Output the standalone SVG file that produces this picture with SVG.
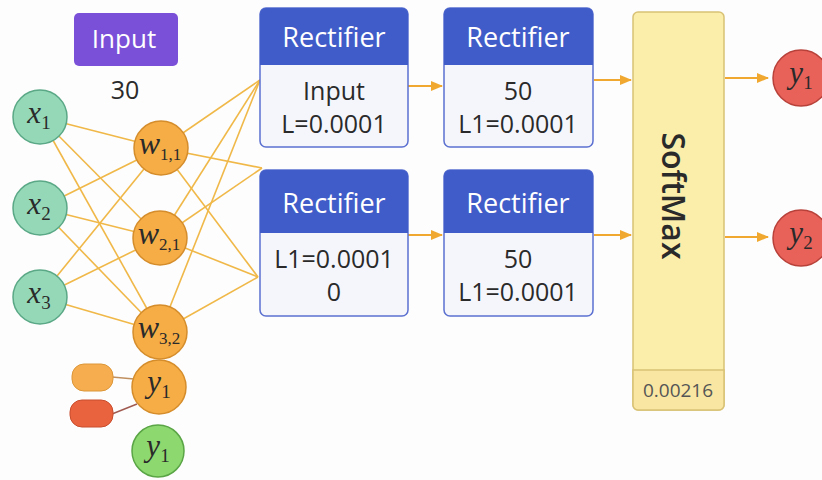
<svg xmlns="http://www.w3.org/2000/svg" width="822" height="480" viewBox="0 0 822 480">
  <defs>
    <marker id="arr" markerWidth="12" markerHeight="12" refX="11" refY="6" orient="auto" markerUnits="userSpaceOnUse">
      <path d="M0,1 L12,6 L0,11 Z" fill="#f0a830"/>
    </marker>
  </defs>
  <style>
    .sans { font-family: "Open Sans", "Liberation Sans", Arial, sans-serif; }
    .math { font-family: "Liberation Serif", "DejaVu Serif", serif; font-style: italic; fill: #2a2a2a; }
    .sub { font-style: normal; }
    .wire { stroke: #f0b848; stroke-width: 1.6; fill: none; }
    .flow { stroke: #f0a830; stroke-width: 2; fill: none; }
    .xnode { fill: #94d8b8; stroke: #5aa886; stroke-width: 1.5; }
    .wnode { fill: #f6ad45; stroke: #d58d2c; stroke-width: 1.5; }
    .rnode { fill: #e8625a; stroke: #b8413a; stroke-width: 1.5; }
    .gnode { fill: #8ed870; stroke: #5aa545; stroke-width: 1.5; }
    .head { fill: #3f5cc8; }
    .body { fill: #f5f6fc; stroke: #5b70d0; stroke-width: 1.5; }
    .htxt { fill: #ffffff; font-size: 27px; text-anchor: middle; }
    .btxt { fill: #2a2a2a; font-size: 25px; text-anchor: middle; }
  </style>

  <rect width="822" height="480" fill="#fdfdfd"/>

  <!-- connectors -->
  <g id="connectors">
    <!-- inputs to hidden weights -->
    <line class="wire" x1="40" y1="117" x2="161" y2="148"/>
    <line class="wire" x1="40" y1="117" x2="160" y2="238"/>
    <line class="wire" x1="40" y1="117" x2="160" y2="332"/>
    <line class="wire" x1="40" y1="208" x2="161" y2="148"/>
    <line class="wire" x1="40" y1="208" x2="160" y2="238"/>
    <line class="wire" x1="40" y1="208" x2="160" y2="332"/>
    <line class="wire" x1="40" y1="297" x2="161" y2="148"/>
    <line class="wire" x1="40" y1="297" x2="160" y2="238"/>
    <line class="wire" x1="40" y1="297" x2="160" y2="332"/>
    <!-- weights to rectifier layers -->
    <line class="wire" x1="161" y1="148" x2="260" y2="80"/>
    <line class="wire" x1="161" y1="148" x2="262" y2="168"/>
    <line class="wire" x1="161" y1="148" x2="258" y2="277"/>
    <line class="wire" x1="160" y1="238" x2="260" y2="80"/>
    <line class="wire" x1="160" y1="238" x2="262" y2="168"/>
    <line class="wire" x1="160" y1="238" x2="258" y2="277"/>
    <line class="wire" x1="160" y1="332" x2="260" y2="80"/>
    <line class="wire" x1="160" y1="332" x2="258" y2="277"/>
    <!-- side tags -->
    <line x1="112" y1="377" x2="134" y2="379" stroke="#c09060" stroke-width="1.5"/>
    <line x1="112" y1="414" x2="137" y2="404" stroke="#a05a50" stroke-width="1.5"/>
    <!-- layer flow -->
    <line class="flow" x1="408" y1="86" x2="442" y2="86" marker-end="url(#arr)"/>
    <line class="flow" x1="408" y1="235" x2="442" y2="235" marker-end="url(#arr)"/>
    <line class="flow" x1="594" y1="80" x2="631" y2="80" marker-end="url(#arr)"/>
    <line class="flow" x1="594" y1="235" x2="631" y2="235" marker-end="url(#arr)"/>
    <line class="flow" x1="725" y1="78" x2="768" y2="78" marker-end="url(#arr)"/>
    <line class="flow" x1="725" y1="237" x2="768" y2="237" marker-end="url(#arr)"/>
  </g>

  <!-- input label -->
  <g id="input-label">
    <rect x="74" y="13" width="104" height="53" rx="5" fill="#7a50d8"/>
    <text class="sans" x="124" y="48" font-size="26" fill="#ffffff" text-anchor="middle">Input</text>
    <text class="sans" x="125" y="99" font-size="25" fill="#2a2a2a" text-anchor="middle">30</text>
  </g>

  <!-- input nodes -->
  <g id="x1">
    <circle class="xnode" cx="40" cy="117" r="27"/>
    <text class="math" x="39" y="123" font-size="31" text-anchor="middle">x<tspan class="sub" font-size="19" dy="6">1</tspan></text>
  </g>
  <g id="x2">
    <circle class="xnode" cx="40" cy="208" r="27"/>
    <text class="math" x="39" y="214" font-size="31" text-anchor="middle">x<tspan class="sub" font-size="19" dy="6">2</tspan></text>
  </g>
  <g id="x3">
    <circle class="xnode" cx="40" cy="297" r="27"/>
    <text class="math" x="39" y="303" font-size="31" text-anchor="middle">x<tspan class="sub" font-size="19" dy="6">3</tspan></text>
  </g>

  <!-- weight nodes -->
  <g id="w11">
    <circle class="wnode" cx="161" cy="148" r="27"/>
    <text class="math" x="160" y="154" font-size="32" text-anchor="middle">w<tspan class="sub" font-size="17" dy="6">1,1</tspan></text>
  </g>
  <g id="w21">
    <circle class="wnode" cx="160" cy="238" r="27"/>
    <text class="math" x="159" y="244" font-size="32" text-anchor="middle">w<tspan class="sub" font-size="17" dy="6">2,1</tspan></text>
  </g>
  <g id="w32">
    <circle class="wnode" cx="160" cy="332" r="27"/>
    <text class="math" x="159" y="338" font-size="32" text-anchor="middle">w<tspan class="sub" font-size="17" dy="6">3,2</tspan></text>
  </g>

  <!-- output-side nodes under the weights -->
  <g id="y1-orange">
    <circle class="wnode" cx="159" cy="387" r="27"/>
    <text class="math" x="159" y="392" font-size="31" text-anchor="middle">y<tspan class="sub" font-size="19" dy="6">1</tspan></text>
  </g>
  <g id="tag-orange">
    <rect x="72" y="364" width="41" height="27" rx="12" fill="#f6ad50" stroke="#dc9638" stroke-width="1"/>
  </g>
  <g id="tag-red">
    <rect x="70" y="400" width="43" height="27" rx="12" fill="#e9643e" stroke="#c84c2c" stroke-width="1"/>
  </g>
  <g id="y1-green">
    <circle class="gnode" cx="158" cy="451" r="26"/>
    <text class="math" x="158" y="456" font-size="31" text-anchor="middle">y<tspan class="sub" font-size="19" dy="6">1</tspan></text>
  </g>

  <!-- rectifier layers -->
  <g id="rect1">
    <rect class="body" x="260" y="8" width="148" height="139" rx="6"/>
    <path class="head" d="M260,14 a6,6 0 0 1 6,-6 h136 a6,6 0 0 1 6,6 v51 h-148 Z"/>
    <text class="sans htxt" x="334" y="47">Rectifier</text>
    <text class="sans btxt" x="334" y="100">Input</text>
    <text class="sans btxt" x="334" y="133">L=0.0001</text>
  </g>
  <g id="rect2">
    <rect class="body" x="444" y="8" width="149" height="139" rx="6"/>
    <path class="head" d="M444,14 a6,6 0 0 1 6,-6 h137 a6,6 0 0 1 6,6 v51 h-149 Z"/>
    <text class="sans htxt" x="518" y="47">Rectifier</text>
    <text class="sans btxt" x="518" y="100">50</text>
    <text class="sans btxt" x="518" y="133">L1=0.0001</text>
  </g>
  <g id="rect3">
    <rect class="body" x="260" y="170" width="148" height="146" rx="6"/>
    <path class="head" d="M260,176 a6,6 0 0 1 6,-6 h136 a6,6 0 0 1 6,6 v57 h-148 Z"/>
    <text class="sans htxt" x="334" y="213">Rectifier</text>
    <text class="sans btxt" x="334" y="268">L1=0.0001</text>
    <text class="sans btxt" x="334" y="301">0</text>
  </g>
  <g id="rect4">
    <rect class="body" x="444" y="170" width="149" height="146" rx="6"/>
    <path class="head" d="M444,176 a6,6 0 0 1 6,-6 h137 a6,6 0 0 1 6,6 v57 h-149 Z"/>
    <text class="sans htxt" x="518" y="213">Rectifier</text>
    <text class="sans btxt" x="518" y="268">50</text>
    <text class="sans btxt" x="518" y="301">L1=0.0001</text>
  </g>

  <!-- softmax layer -->
  <g id="softmax">
    <rect x="633" y="12" width="91" height="398" rx="5" fill="#fbeeaa" stroke="#d9c276" stroke-width="1.5"/>
    <path d="M633,370 h91 v35 a5,5 0 0 1 -5,5 h-81 a5,5 0 0 1 -5,-5 Z" fill="#f8e6a2" stroke="#d9c276" stroke-width="1.5"/>
    <text class="sans" x="0" y="0" font-size="32" font-weight="600" fill="#2a2a2a" text-anchor="middle" transform="translate(662,196) rotate(90)">SoftMax</text>
    <text class="sans" x="678" y="397" font-size="19" fill="#555555" text-anchor="middle">0.00216</text>
  </g>

  <!-- outputs -->
  <g id="y1-out">
    <circle class="rnode" cx="801" cy="78" r="28"/>
    <text class="math" x="801" y="83" font-size="31" text-anchor="middle">y<tspan class="sub" font-size="19" dy="6">1</tspan></text>
  </g>
  <g id="y2-out">
    <circle class="rnode" cx="801" cy="238" r="28"/>
    <text class="math" x="801" y="243" font-size="31" text-anchor="middle">y<tspan class="sub" font-size="19" dy="6">2</tspan></text>
  </g>
</svg>
